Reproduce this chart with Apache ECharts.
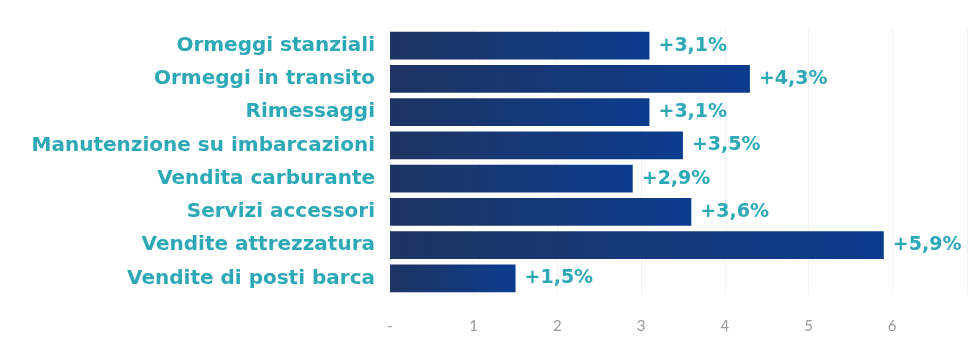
<!DOCTYPE html>
<html>
<head>
<meta charset="utf-8">
<style>
  html, body { margin: 0; padding: 0; background: #ffffff; }
  #chart { width: 970px; height: 339px; }
</style>
<script src="https://cdn.jsdelivr.net/npm/echarts@6/dist/echarts.min.js"></script>
</head>
<body>
<div id="chart"></div>
<script>
// Categories listed top to bottom
const categories = [
  'Ormeggi stanziali',
  'Ormeggi in transito',
  'Rimessaggi',
  'Manutenzione su imbarcazioni',
  'Vendita carburante',
  'Servizi accessori',
  'Vendite attrezzatura',
  'Vendite di posti barca'
];
// Growth in percent
const growth = [3.1, 4.3, 3.1, 3.5, 2.9, 3.6, 5.9, 1.5];
// Tick labels for 0..6
const tickLabels = ['-', '1', '2', '3', '4', '5', '6'];

const chart = echarts.init(document.getElementById('chart'));

const barColor = new echarts.graphic.LinearGradient(0, 0, 1, 0, [
  { offset: 0, color: '#1e3462' },
  { offset: 1, color: '#0c3c8e' }
]);

chart.setOption({
  animation: false,
  grid: { left: 390, top: 29, width: 577.5, height: 266, containLabel: false },
  xAxis: {
    type: 'value',
    min: 0,
    max: 6.9,
    interval: 1,
    axisLine: { show: false },
    axisTick: { show: false },
    splitLine: { show: true, lineStyle: { color: '#f1f1f1', width: 1 } },
    axisLabel: {
      margin: 24,
      color: '#9a9a9a',
      fontFamily: 'Lato',
      fontSize: 15,
      showMaxLabel: false,
      formatter: v => (Number.isInteger(v) && v < tickLabels.length ? tickLabels[v] : '')
    }
  },
  yAxis: {
    type: 'category',
    inverse: true,
    data: categories,
    axisLine: { show: false },
    axisTick: { show: false },
    axisLabel: {
      margin: 15,
      color: '#2ca8b6',
      fontFamily: 'DejaVu Sans',
      fontWeight: 'bold',
      fontSize: 20
    }
  },
  series: [{
    type: 'bar',
    data: growth,
    barCategoryGap: '17%',
    itemStyle: { color: barColor },
    label: {
      show: true,
      position: 'right',
      distance: 9,
      color: '#2ca8b6',
      fontFamily: 'DejaVu Sans',
      fontWeight: 'bold',
      fontSize: 19,
      formatter: p => '+' + p.value.toFixed(1).replace('.', ',') + '%'
    }
  }]
});
</script>
</body>
</html>
